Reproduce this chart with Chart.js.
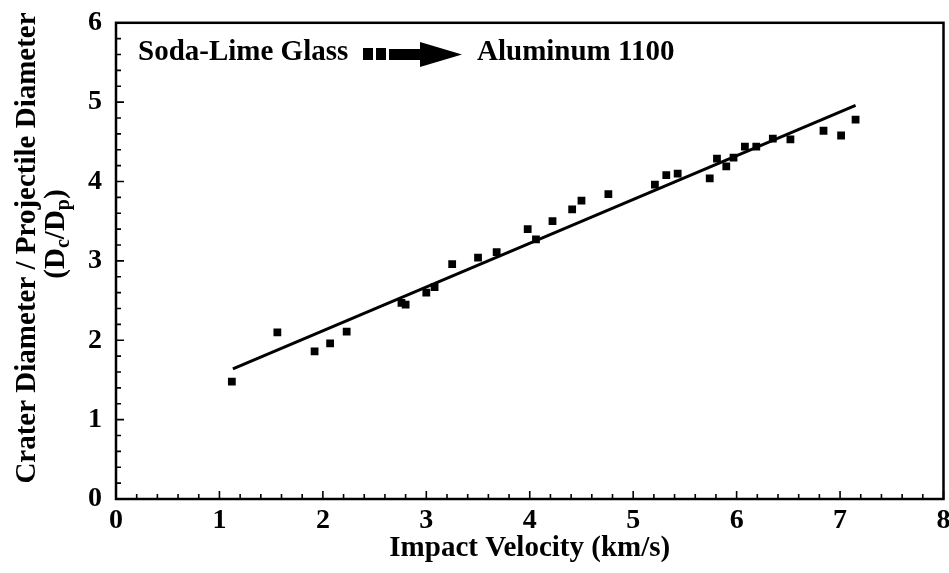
<!DOCTYPE html>
<html>
<head>
<meta charset="utf-8">
<script src="https://cdn.jsdelivr.net/npm/chart.js@4"></script>
<style>
  html, body { margin: 0; padding: 0; background: #fff; }
</style>
</head>
<body>
<canvas id="chart" width="949" height="573"></canvas>
<script>
// measured points: impact velocity (km/s) vs Dc/Dp
const velocity = [
  1.12, 1.56, 1.92, 2.07, 2.23, 2.76, 2.80, 3.00, 3.08, 3.25, 3.50,
  3.68, 3.98, 4.06, 4.22, 4.41, 4.50, 4.76, 5.21, 5.32, 5.43, 5.74,
  5.81, 5.90, 5.97, 6.08, 6.19, 6.35, 6.52, 6.84, 7.01, 7.15
];
const diameterRatio = [
  1.48, 2.10, 1.86, 1.96, 2.11, 2.47, 2.45, 2.60, 2.67, 2.96, 3.04,
  3.11, 3.40, 3.27, 3.50, 3.65, 3.76, 3.84, 3.96, 4.08, 4.10, 4.04,
  4.29, 4.19, 4.30, 4.44, 4.44, 4.54, 4.53, 4.64, 4.58, 4.78
];

// linear fit, end points
const fitVelocity = [1.13, 7.15];
const fitRatio = [1.64, 4.96];

const legendFrom = "Soda-Lime Glass";
const legendTo = "Aluminum 1100";
const yTitle = "Crater Diameter / Projectile Diameter";
const xTitle = "Impact Velocity (km/s)";

const SERIF = "'Liberation Serif', 'Times New Roman', serif";

const framePlugin = {
  id: "frame",
  afterDatasetsDraw(chart) {
    const ctx = chart.ctx;
    const area = chart.chartArea;
    const xs = chart.scales.x;
    const ys = chart.scales.y;

    ctx.save();
    ctx.strokeStyle = "#000";

    // inward tick marks, minor every 0.2
    ctx.lineWidth = 1.6;
    ctx.beginPath();
    for (let i = 0; i <= 40; i++) {
      const px = xs.getPixelForValue(i / 5);
      const len = i % 5 === 0 ? 8 : 5;
      ctx.moveTo(px, area.bottom);
      ctx.lineTo(px, area.bottom - len);
    }
    for (let i = 0; i <= 30; i++) {
      const py = ys.getPixelForValue(i / 5);
      const len = i % 5 === 0 ? 8 : 5;
      ctx.moveTo(area.left, py);
      ctx.lineTo(area.left + len, py);
    }
    ctx.stroke();

    ctx.lineWidth = 2.5;
    ctx.strokeRect(area.left, area.top, area.right - area.left, area.bottom - area.top);
    ctx.restore();
  },
  afterDraw(chart) {
    const ctx = chart.ctx;
    ctx.save();
    ctx.fillStyle = "#000";

    // legend line: text, two squares and an arrow
    ctx.font = "bold 29px " + SERIF;
    ctx.textBaseline = "alphabetic";
    ctx.textAlign = "left";
    ctx.fillText(legendFrom, 138, 60);
    ctx.fillRect(363, 48, 10, 12);
    ctx.fillRect(376, 48, 10, 12);
    ctx.fillRect(389, 49, 32, 11);
    ctx.beginPath();
    ctx.moveTo(420, 42);
    ctx.lineTo(462, 54.5);
    ctx.lineTo(420, 67);
    ctx.closePath();
    ctx.fill();
    ctx.fillText(legendTo, 477, 60);

    // y axis title, two lines, second with subscripts
    ctx.save();
    ctx.translate(28, 248);
    ctx.rotate(-Math.PI / 2);
    ctx.textAlign = "center";
    ctx.textBaseline = "middle";
    ctx.font = "bold 29px " + SERIF;
    ctx.fillText(yTitle, 0, 0);
    ctx.restore();

    ctx.save();
    ctx.translate(57, 234);
    ctx.rotate(-Math.PI / 2);
    ctx.textBaseline = "middle";
    ctx.textAlign = "left";
    const big = "bold 29px " + SERIF;
    const small = "bold 20px " + SERIF;
    const parts = [["(D", big, 0], ["c", small, 7], ["/D", big, 0], ["p", small, 7], [")", big, 0]];
    let total = 0;
    parts.forEach(p => { ctx.font = p[1]; total += ctx.measureText(p[0]).width; });
    let x = -total / 2;
    parts.forEach(p => {
      ctx.font = p[1];
      ctx.fillText(p[0], x, p[2]);
      x += ctx.measureText(p[0]).width;
    });
    ctx.restore();

    ctx.restore();
  }
};

new Chart(document.getElementById("chart").getContext("2d"), {
  type: "scatter",
  plugins: [framePlugin],
  data: {
    datasets: [
      {
        label: "data",
        data: velocity.map((v, i) => ({ x: v, y: diameterRatio[i] })),
        pointStyle: "rect",
        pointRadius: 5.5,
        backgroundColor: "#000",
        borderWidth: 0
      },
      {
        label: "fit",
        data: fitVelocity.map((v, i) => ({ x: v, y: fitRatio[i] })),
        showLine: true,
        pointRadius: 0,
        borderColor: "#000",
        borderWidth: 3
      }
    ]
  },
  options: {
    responsive: false,
    animation: false,
    layout: { padding: { top: 21, right: 3, left: 0, bottom: 0 } },
    plugins: {
      legend: { display: false },
      tooltip: { enabled: false }
    },
    scales: {
      x: {
        min: 0,
        max: 8,
        grid: { display: false },
        border: { display: false },
        ticks: {
          stepSize: 1,
          padding: -3,
          color: "#000",
          font: { family: SERIF, size: 28, weight: "bold" }
        },
        title: {
          display: true,
          text: xTitle,
          color: "#000",
          padding: { top: 0, bottom: 7 },
          font: { family: SERIF, size: 29, weight: "bold" }
        },
        afterFit(scale) {
          scale.height = 74;
          scale.paddingRight = 0;
        }
      },
      y: {
        min: 0,
        max: 6,
        grid: { display: false },
        border: { display: false },
        ticks: {
          stepSize: 1,
          padding: 6,
          color: "#000",
          font: { family: SERIF, size: 28, weight: "bold" }
        },
        afterFit(scale) {
          scale.width = 116;
        }
      }
    }
  }
});
</script>
</body>
</html>
